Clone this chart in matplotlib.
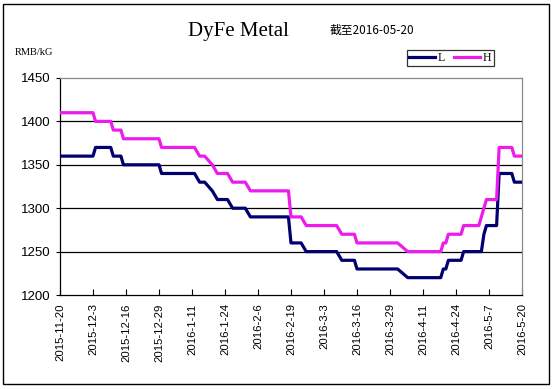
import matplotlib
matplotlib.use("Agg")
import matplotlib.pyplot as plt
import numpy as np
from matplotlib.patches import Rectangle

plt.rcParams['font.family'] = ['DejaVu Sans', 'Noto Sans CJK SC']

# vertices of the L (low) price line
l_dates = ['2015-11-20', '2015-12-03', '2015-12-04', '2015-12-10', '2015-12-11',
           '2015-12-14', '2015-12-15', '2015-12-29', '2015-12-30', '2016-01-12',
           '2016-01-14', '2016-01-16', '2016-01-19', '2016-01-21', '2016-01-25',
           '2016-01-27', '2016-02-01', '2016-02-03', '2016-02-18', '2016-02-19',
           '2016-02-23', '2016-02-25', '2016-03-08', '2016-03-10', '2016-03-15',
           '2016-03-16', '2016-04-01', '2016-04-05', '2016-04-18', '2016-04-19',
           '2016-04-20', '2016-04-21', '2016-04-26', '2016-04-27', '2016-05-04',
           '2016-05-05', '2016-05-06', '2016-05-10', '2016-05-11', '2016-05-16',
           '2016-05-17', '2016-05-20']
l_vals = [1360, 1360, 1370, 1370, 1360,
          1360, 1350, 1350, 1340, 1340,
          1330, 1330, 1320, 1310, 1310,
          1300, 1300, 1290, 1290, 1260,
          1260, 1250, 1250, 1240, 1240,
          1230, 1230, 1220, 1220, 1230,
          1230, 1240, 1240, 1250, 1250,
          1270, 1280, 1280, 1340, 1340,
          1330, 1330]

# vertices of the H (high) price line
h_dates = ['2015-11-20', '2015-12-03', '2015-12-04', '2015-12-10', '2015-12-11',
           '2015-12-14', '2015-12-15', '2015-12-29', '2015-12-30', '2016-01-12',
           '2016-01-14', '2016-01-16', '2016-01-19', '2016-01-21', '2016-01-25',
           '2016-01-27', '2016-02-01', '2016-02-03', '2016-02-18', '2016-02-19',
           '2016-02-23', '2016-02-25', '2016-03-08', '2016-03-10', '2016-03-15',
           '2016-03-16', '2016-04-01', '2016-04-05', '2016-04-18', '2016-04-19',
           '2016-04-20', '2016-04-21', '2016-04-26', '2016-04-27', '2016-05-03',
           '2016-05-05', '2016-05-06', '2016-05-10', '2016-05-11', '2016-05-16',
           '2016-05-17', '2016-05-20']
h_vals = [1410, 1410, 1400, 1400, 1390,
          1390, 1380, 1380, 1370, 1370,
          1360, 1360, 1350, 1340, 1340,
          1330, 1330, 1320, 1320, 1290,
          1290, 1280, 1280, 1270, 1270,
          1260, 1260, 1250, 1250, 1260,
          1260, 1270, 1270, 1280, 1280,
          1300, 1310, 1310, 1370, 1370,
          1360, 1360]

tick_dates = ['2015-11-20', '2015-12-03', '2015-12-16', '2015-12-29', '2016-01-11',
              '2016-01-24', '2016-02-06', '2016-02-19', '2016-03-03', '2016-03-16',
              '2016-03-29', '2016-04-11', '2016-04-24', '2016-05-07', '2016-05-20']
tick_labels = ['2015-11-20', '2015-12-3', '2015-12-16', '2015-12-29', '2016-1-11',
               '2016-1-24', '2016-2-6', '2016-2-19', '2016-3-3', '2016-3-16',
               '2016-3-29', '2016-4-11', '2016-4-24', '2016-5-7', '2016-5-20']
y_ticks = [1200, 1250, 1300, 1350, 1400, 1450]

navy = '#000070'
pink = '#EC1CEC'

fig = plt.figure(figsize=(5.54, 3.89), dpi=100)
ax = fig.add_axes([0.1083, 0.2416, 0.8339, 0.5579])

ld = np.array(l_dates, dtype='datetime64[D]')
hd = np.array(h_dates, dtype='datetime64[D]')
ax.plot(ld, l_vals, color=navy, lw=2.3, label='L', zorder=3)
ax.plot(hd, h_vals, color=pink, lw=2.3, label='H', zorder=3)

ax.set_ylim(1200, 1450)
ax.set_xlim(np.datetime64('2015-11-20'), np.datetime64('2016-05-20'))
ax.set_yticks(y_ticks)
ax.set_yticklabels([str(v) for v in y_ticks], fontsize=9.5, family='Liberation Sans')
for v in y_ticks[1:-1]:
    ax.axhline(v, color='black', lw=0.9, zorder=1)

ax.set_xticks(np.array(tick_dates, dtype='datetime64[D]'))
ax.set_xticklabels(tick_labels, rotation=90, fontsize=8.2, family='Liberation Sans',
                   va='top', ha='center')
ax.tick_params(axis='x', direction='in', length=4, width=0.8, pad=6)
ax.tick_params(axis='y', direction='out', length=3, width=0.8, pad=4)

for s in ['top', 'right']:
    ax.spines[s].set_color('#888888')
    ax.spines[s].set_linewidth(0.9)
for s in ['left', 'bottom']:
    ax.spines[s].set_color('black')
    ax.spines[s].set_linewidth(0.9)

fig.text(0.43, 0.92, 'DyFe Metal', fontsize=15, family='Liberation Serif',
         ha='center', va='center')
fig.text(0.594, 0.921, '截至2016-05-20', fontsize=8.5,
         family=['Noto Sans CJK SC', 'DejaVu Sans'], ha='left', va='center')
fig.text(0.027, 0.865, 'RMB/kG', fontsize=7.5, family='Liberation Serif',
         ha='left', va='center')

leg = fig.legend(loc='center', bbox_to_anchor=(0.813, 0.851), ncol=2,
                 frameon=True, fancybox=False,
                 prop={'family': 'Liberation Serif', 'size': 8.5},
                 handlelength=2.2, handletextpad=0.2, columnspacing=0.8,
                 borderpad=0.2, borderaxespad=0)
leg.get_frame().set_edgecolor('black')
leg.get_frame().set_linewidth(0.9)

fig.patches.append(Rectangle((0.006, 0.012), 0.985, 0.978, transform=fig.transFigure,
                             fill=False, edgecolor='black', lw=1.0))

fig.savefig('out.png', dpi=100)
